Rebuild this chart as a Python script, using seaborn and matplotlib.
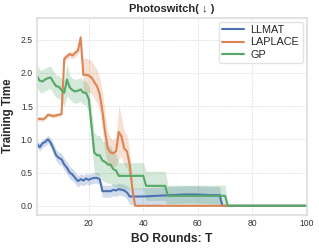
import numpy as np
import pandas as pd
import matplotlib
matplotlib.use("Agg")
import matplotlib.pyplot as plt
import seaborn as sns

# ---- data ----
llmat_x = [1, 2, 3, 4, 5, 6, 7, 8, 9, 10, 11, 12, 13, 14, 15, 16, 17, 18, 19, 20, 21, 22, 23, 24, 25,
           28, 29, 30, 31, 32, 33, 34, 35, 40, 45, 50, 55, 60, 65, 68, 69, 100]
llmat_y = [0.93, 0.88, 0.94, 0.96, 1.00, 0.95, 0.86, 0.76, 0.72, 0.70, 0.62, 0.57, 0.50, 0.47, 0.42,
           0.37, 0.40, 0.38, 0.41, 0.39, 0.41, 0.42, 0.42, 0.40, 0.22,
           0.22, 0.24, 0.23, 0.25, 0.24, 0.23, 0.20, 0.14, 0.14, 0.15, 0.16, 0.17, 0.17, 0.16, 0.16, 0.0, 0.0]
llmat_err = [0.05, 0.06, 0.06, 0.06, 0.06, 0.07, 0.08, 0.08, 0.09, 0.09, 0.09, 0.09, 0.09, 0.09, 0.09,
             0.09, 0.08, 0.08, 0.08, 0.08, 0.08, 0.08, 0.08, 0.08, 0.09,
             0.09, 0.09, 0.09, 0.09, 0.09, 0.09, 0.10, 0.12, 0.13, 0.13, 0.13, 0.13, 0.13, 0.13, 0.13, 0.0, 0.0]

lap_x = list(range(1, 38)) + [100]
lap_y = [1.30, 1.31, 1.30, 1.32, 1.37, 1.36, 1.35, 1.36, 1.37, 1.38,
         2.21, 2.25, 2.28, 2.26, 2.30, 2.33, 2.53, 1.97, 1.97, 1.96,
         1.93, 1.86, 1.80, 1.68, 1.42, 1.10, 0.86, 0.80, 0.79, 0.82,
         1.11, 1.04, 0.86, 0.82, 0.62, 0.25, 0.0, 0.0]
lap_err = [0.03, 0.03, 0.03, 0.03, 0.03, 0.03, 0.03, 0.03, 0.03, 0.03,
           0.05, 0.05, 0.05, 0.05, 0.06, 0.06, 0.08, 0.25, 0.25, 0.25,
           0.25, 0.25, 0.25, 0.25, 0.30, 0.30, 0.25, 0.22, 0.20, 0.22,
           0.40, 0.30, 0.25, 0.25, 0.20, 0.10, 0.0, 0.0]

gp_x = list(range(1, 32)) + [40, 41, 48, 49, 70, 71, 100]
gp_y = [1.95, 1.88, 1.87, 1.90, 1.92, 1.93, 1.86, 1.80, 1.79, 1.74,
        1.70, 1.90, 1.78, 1.74, 1.72, 1.73, 1.75, 1.70, 1.70, 1.60,
        1.20, 0.80, 0.76, 0.76, 0.68, 0.66, 0.62, 0.62, 0.55, 0.53,
        0.45, 0.45, 0.30, 0.30, 0.15, 0.15, 0.0, 0.0]
gp_err = [0.17, 0.17, 0.17, 0.17, 0.17, 0.17, 0.17, 0.17, 0.17, 0.17,
          0.20, 0.25, 0.18, 0.18, 0.18, 0.18, 0.18, 0.18, 0.18, 0.20,
          0.25, 0.30, 0.30, 0.30, 0.30, 0.30, 0.28, 0.28, 0.25, 0.25,
          0.20, 0.20, 0.22, 0.22, 0.16, 0.16, 0.0, 0.0]

series_names = ["LLMAT", "LAPLACE", "GP"]
x_ticks = [20, 40, 60, 80, 100]
y_ticks = [0.0, 0.5, 1.0, 1.5, 2.0, 2.5]

# ---- styling ----
sns.set_theme(style="whitegrid")
plt.rcParams["font.family"] = ["Liberation Sans", "DejaVu Sans"]
palette = sns.color_palette("deep")

fig = plt.figure(figsize=(3.19, 2.48), dpi=100)
ax = fig.add_axes([0.116, 0.134, 0.846, 0.795])

data = [(llmat_x, llmat_y, llmat_err), (lap_x, lap_y, lap_err), (gp_x, gp_y, gp_err)]
for (xs, ys, es), name, col in zip(data, series_names, palette[:3]):
    xs = np.asarray(xs, float); ys = np.asarray(ys, float); es = np.asarray(es, float)
    ax.fill_between(xs, ys - es, ys + es, color=col, alpha=0.25, linewidth=0)
    sns.lineplot(x=xs, y=ys, ax=ax, color=col, linewidth=1.5, label=name)

ax.set_xlim(1, 100)
ax.set_ylim(-0.135, 2.83)
ax.set_xticks(x_ticks)
ax.set_yticks(y_ticks)
ax.set_yticklabels([f"{v:.1f}" for v in y_ticks])
ax.tick_params(axis="both", labelsize=6.2, pad=3, length=0, labelcolor="#333333")
ax.grid(True, linestyle=(0, (2, 1.5)), linewidth=0.6, color="#dddddd")
for sp in ax.spines.values():
    sp.set_color("#dddddd")
    sp.set_linewidth(1.2)

ax.set_title("Photoswitch( ↓ )", fontsize=8, fontweight="bold", pad=4)
ax.set_xlabel("BO Rounds: T", fontsize=8.7, fontweight="bold", labelpad=4)
ax.set_ylabel("Training Time", fontsize=8.3, fontweight="bold", labelpad=5)

leg = ax.legend(loc="upper right", fontsize=7.8, frameon=True, handlelength=2.0,
                borderpad=0.3, labelspacing=0.2, handletextpad=0.6,
                borderaxespad=0.4)
leg.get_frame().set_edgecolor("#dddddd")

fig.savefig("out.png", dpi=100)
